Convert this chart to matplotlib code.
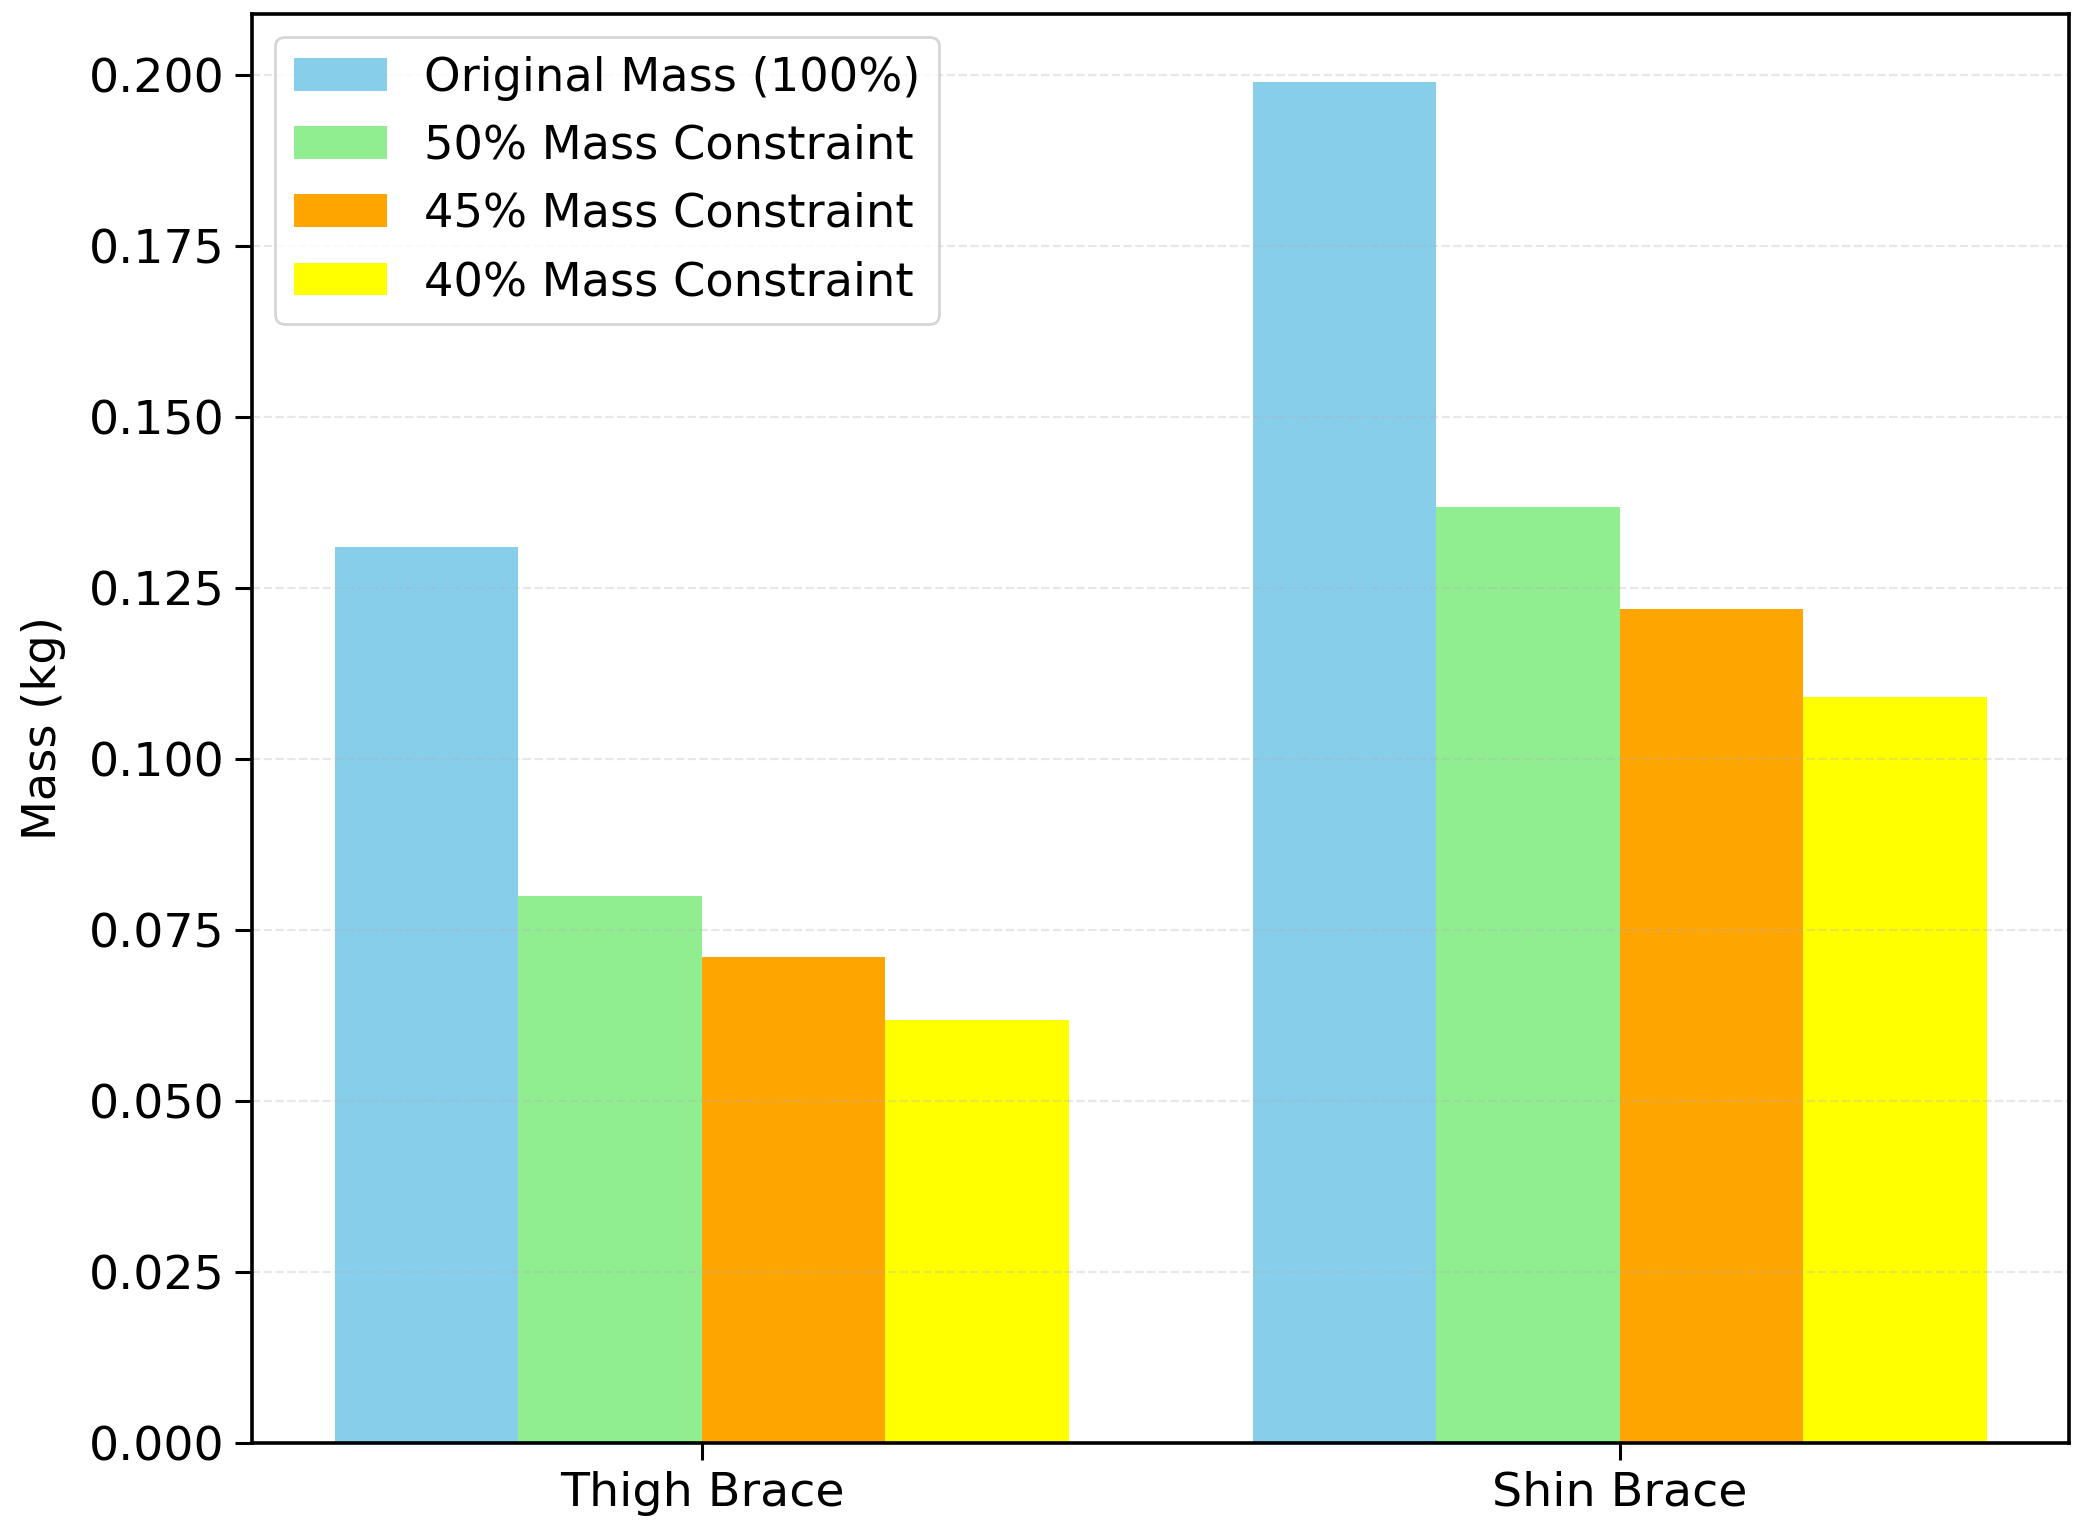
import numpy as np
import matplotlib
matplotlib.use("Agg")
import matplotlib.pyplot as plt

# data
braces = ["Thigh Brace", "Shin Brace"]
original = [0.131, 0.199]
mass50 = [0.080, 0.1368]
mass45 = [0.0711, 0.122]
mass40 = [0.0618, 0.109]
labels = ["Original Mass (100%)", "50% Mass Constraint",
          "45% Mass Constraint", "40% Mass Constraint"]
colors = ["skyblue", "lightgreen", "orange", "yellow"]

plt.rcParams["font.family"] = "DejaVu Sans"
plt.rcParams["font.size"] = 16.7

fig, ax = plt.subplots(figsize=(10.42, 7.68), dpi=200)
fig.subplots_adjust(left=0.121, right=0.993, top=0.991, bottom=0.0605)

x = np.arange(len(braces))
w = 0.2
series = [original, mass50, mass45, mass40]
for i, vals in enumerate(series):
    ax.bar(x + (i - 1.5) * w, vals, w, label=labels[i], color=colors[i])

ax.set_xticks(x)
ax.set_xticklabels(braces)
ax.set_ylabel("Mass (kg)", labelpad=8)
ax.yaxis.set_major_formatter(matplotlib.ticker.FormatStrFormatter("%.3f"))
ax.grid(axis="y", linestyle="--", alpha=0.3)
ax.legend(loc="upper left")

for s in ax.spines.values():
    s.set_linewidth(1.3)
ax.tick_params(length=6, width=1.1, labelsize=17.1, pad=4)

fig.savefig("out.png", dpi=200)
